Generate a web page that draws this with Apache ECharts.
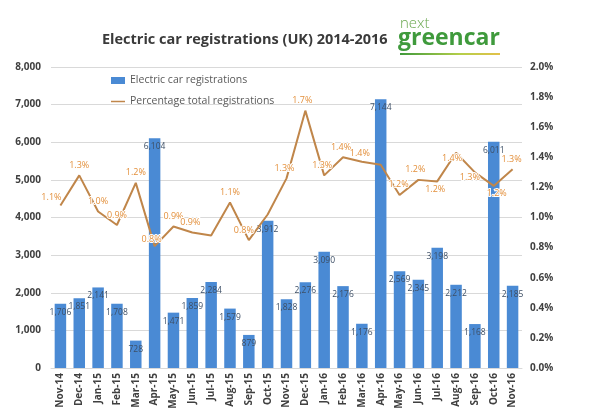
<!DOCTYPE html>
<html><head><meta charset="utf-8">
<script src="https://cdn.jsdelivr.net/npm/echarts@6/dist/echarts.min.js"></script>
<style>html,body{margin:0;padding:0;background:#fff}#c{width:600px;height:415px}</style>
</head><body><div id="c"></div>
<script>
const categories = ['Nov-14','Dec-14','Jan-15','Feb-15','Mar-15','Apr-15','May-15','Jun-15','Jul-15','Aug-15','Sep-15','Oct-15','Nov-15','Dec-15','Jan-16','Feb-16','Mar-16','Apr-16','May-16','Jun-16','Jul-16','Aug-16','Sep-16','Oct-16','Nov-16'];
const registrations = [1706,1851,2141,1708,728,6104,1471,1859,2284,1579,879,3912,1828,2276,3090,2176,1176,7144,2569,2345,3198,2212,1168,6011,2185];
const percentages = [1.08,1.28,1.04,0.95,1.23,0.81,0.94,0.90,0.88,1.10,0.85,1.02,1.26,1.71,1.28,1.40,1.37,1.35,1.15,1.25,1.24,1.43,1.30,1.21,1.32];
const pctLabels = ['1.1%','1.3%','1.0%','0.9%','1.2%','0.8%','0.9%','0.9%','','1.1%','0.8%','','1.3%','1.7%','1.3%','1.4%','1.4%','','1.2%','1.2%','1.2%','1.4%','1.3%','1.2%','1.3%'];
const leftMax = 8000, leftStep = 1000;
const rightMax = 2.0, rightStep = 0.2;
const seriesNames = ['Electric car registrations','Percentage total registrations'];
const titleText = 'Electric car registrations (UK) 2014-2016';

// label placement (style only)
const pctLabelPlace = [
  ['top',[-9,2]],['top',[0,0]],['top',[0,0]],['top',[0,0]],['top',[0,0]],['top',[-3,3]],
  ['top',[0,0]],['top',[-2,0]],['top',[0,0]],['top',[0,0]],['top',[-5,0]],['top',[0,0]],
  ['top',[-2,0]],['top',[-3,0]],['top',[-2,0]],['top',[-2,0]],['top',[-2,2]],['top',[0,0]],
  ['top',[-1,0]],['top',[-3,0]],['bottom',[-2,-2]],['bottom',[-4,-4]],['top',[-5,15]],['bottom',[3,-2]],['top',[-1,0]]
];

const lineColor = '#c0864a';
const chart = echarts.init(document.getElementById('c'), null, {renderer:'canvas'});
const lineData = percentages.map((v,i)=>({
  value: v,
  label: {
    show: pctLabels[i] !== '',
    formatter: pctLabels[i],
    position: pctLabelPlace[i][0],
    offset: pctLabelPlace[i][1]
  }
}));
chart.setOption({
  animation:false,
  backgroundColor:'#fff',
  graphic:[
    {type:'text', left:102, top:32, style:{text:titleText, font:'bold 14.5px "Open Sans"', fill:'#3a3a3a'}},
    {type:'text', left:400, top:16, style:{text:'next', font:'300 15px "Open Sans"', fill:'#6aa84f'}},
    {type:'text', left:398, top:27, style:{text:'greencar', font:'bold 23px "Open Sans"', fill:'#3f9a3c'}},
    {type:'rect', shape:{x:400,y:53,width:100,height:2}, style:{fill:new echarts.graphic.LinearGradient(0,0,1,0,[{offset:0,color:'#3f9a3c'},{offset:0.6,color:'#b5cf4a'},{offset:1,color:'#e3c14a'}])}}
  ],
  legend:{
    orient:'vertical', left:106, top:70, itemGap:10, itemWidth:14, itemHeight:7,
    textStyle:{fontSize:10.5, color:'#595959', fontFamily:'"Open Sans"'},
    data:[
      {name:seriesNames[0], icon:'rect'},
      {name:seriesNames[1], icon:'path://M0,3h14v1.5h-14z', itemStyle:{color:lineColor, opacity:1}}
    ]
  },
  grid:{left:51, right:78, top:67, bottom:47, containLabel:false},
  xAxis:{
    type:'category', data:categories,
    axisLine:{show:true, lineStyle:{color:'#d9d9d9'}}, axisTick:{show:false},
    axisLabel:{rotate:90, fontSize:10, fontWeight:'bold', color:'#404040', fontFamily:'"Open Sans"', margin:5, interval:0}
  },
  yAxis:[
    {type:'value', min:0, max:leftMax, interval:leftStep,
     axisLine:{show:false}, axisTick:{show:false},
     splitLine:{lineStyle:{color:'#d9d9d9'}},
     axisLabel:{fontSize:10, fontWeight:'bold', color:'#404040', fontFamily:'"Open Sans"', margin:10,
       formatter:v=>v.toLocaleString('en-US')}},
    {type:'value', min:0, max:rightMax, interval:rightStep, position:'right',
     axisLine:{show:false}, axisTick:{show:false}, splitLine:{show:false},
     axisLabel:{fontSize:10, fontWeight:'bold', color:'#404040', fontFamily:'"Open Sans"', margin:8,
       formatter:v=>v.toFixed(1)+'%'}}
  ],
  series:[
    {name:seriesNames[0], type:'bar', data:registrations, barWidth:'61%', yAxisIndex:0,
     itemStyle:{color:'#4a8ad4'},
     label:{show:true, position:'insideTop', distance:4, fontSize:8.5, color:'#3d4f66', fontFamily:'"Open Sans"',
       formatter:p=>p.value.toLocaleString('en-US')}},
    {name:seriesNames[1], type:'line', data:lineData, yAxisIndex:1, symbol:'circle', symbolSize:1, showSymbol:true,
     lineStyle:{color:lineColor, width:2}, itemStyle:{color:lineColor, opacity:0}, z:5,
     label:{show:true, fontSize:9, color:'#e3903c', fontFamily:'"Open Sans"', textBorderColor:'#fff', textBorderWidth:2, opacity:1}}
  ]
});
</script></body></html>
